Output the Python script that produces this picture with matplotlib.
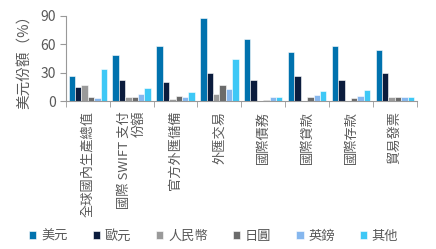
import matplotlib
matplotlib.use("Agg")
import matplotlib.pyplot as plt
import numpy as np

plt.rcParams['font.family'] = ['Noto Sans CJK TC', 'DejaVu Sans']

# Datos
categorias = ['全球國內生產總值', '國際 SWIFT 支付\n份額', '官方外匯儲備', '外匯交易',
              '國際債務', '國際貸款', '國際存款', '貿易發票']
monedas = ['美元', '歐元', '人民幣', '日圓', '英鎊', '其他']
usd = [26, 49, 58, 88, 65, 52, 58, 54]
eur = [15, 22, 20, 30, 22, 26, 22, 30]
rmb = [17, 4, 2, 7, 0.6, 0.3, 0.4, 4]
jpy = [4, 4, 5.5, 17, 0.7, 4, 3, 4]
gbp = [3, 7, 4.5, 13, 4.5, 6, 5, 4]
otros = [34, 14, 9.5, 44, 4.5, 11, 11.5, 4]
colores = ['#0072ae', '#0b1c3d', '#9a9a9a', '#6b6b6b', '#86b7ee', '#3ec8f6']

series = [usd, eur, rmb, jpy, gbp, otros]
gris = '#595959'

fig = plt.figure(figsize=(4.36, 2.49), dpi=100)
ax = fig.add_axes([0.151, 0.594, 0.805, 0.343])

x = np.arange(len(categorias))
ancho = 0.146
for i, (vals, col, nombre) in enumerate(zip(series, colores, monedas)):
    ax.bar(x + (i - 2.5) * ancho, vals, width=ancho, color=col,
           edgecolor='white', linewidth=0.4, label=nombre)

ax.set_xlim(-0.5, len(categorias) - 0.5)
ax.set_ylim(0, 90)
ax.set_yticks([0, 30, 60, 90])

ax.set_xticks(x)
ax.set_xticklabels(categorias, rotation=90, va='top', ha='center',
                   multialignment='right', fontsize=9.5, color=gris,
                   linespacing=1.1)
ax.set_xticks(np.arange(-0.5, len(categorias)), minor=True)
ax.tick_params(axis='x', which='major', length=0, pad=7)
ax.tick_params(axis='x', which='minor', length=4, color='#999999')
ax.tick_params(axis='y', length=4, color='#999999', labelsize=10,
               labelcolor=gris, pad=3)

for s in ['top', 'right']:
    ax.spines[s].set_visible(False)
for s in ['left', 'bottom']:
    ax.spines[s].set_color('#999999')

ax.set_ylabel('美元份額（%）', fontsize=10.5, color=gris, labelpad=6)

handles, labels = ax.get_legend_handles_labels()
fig.legend(handles, labels, loc='center', bbox_to_anchor=(0.49, 0.052), ncol=6,
           frameon=False, fontsize=9.5, handlelength=0.55, handleheight=0.55,
           handletextpad=0.35, columnspacing=1.9, labelcolor=gris)

plt.savefig('out.png', dpi=100)
